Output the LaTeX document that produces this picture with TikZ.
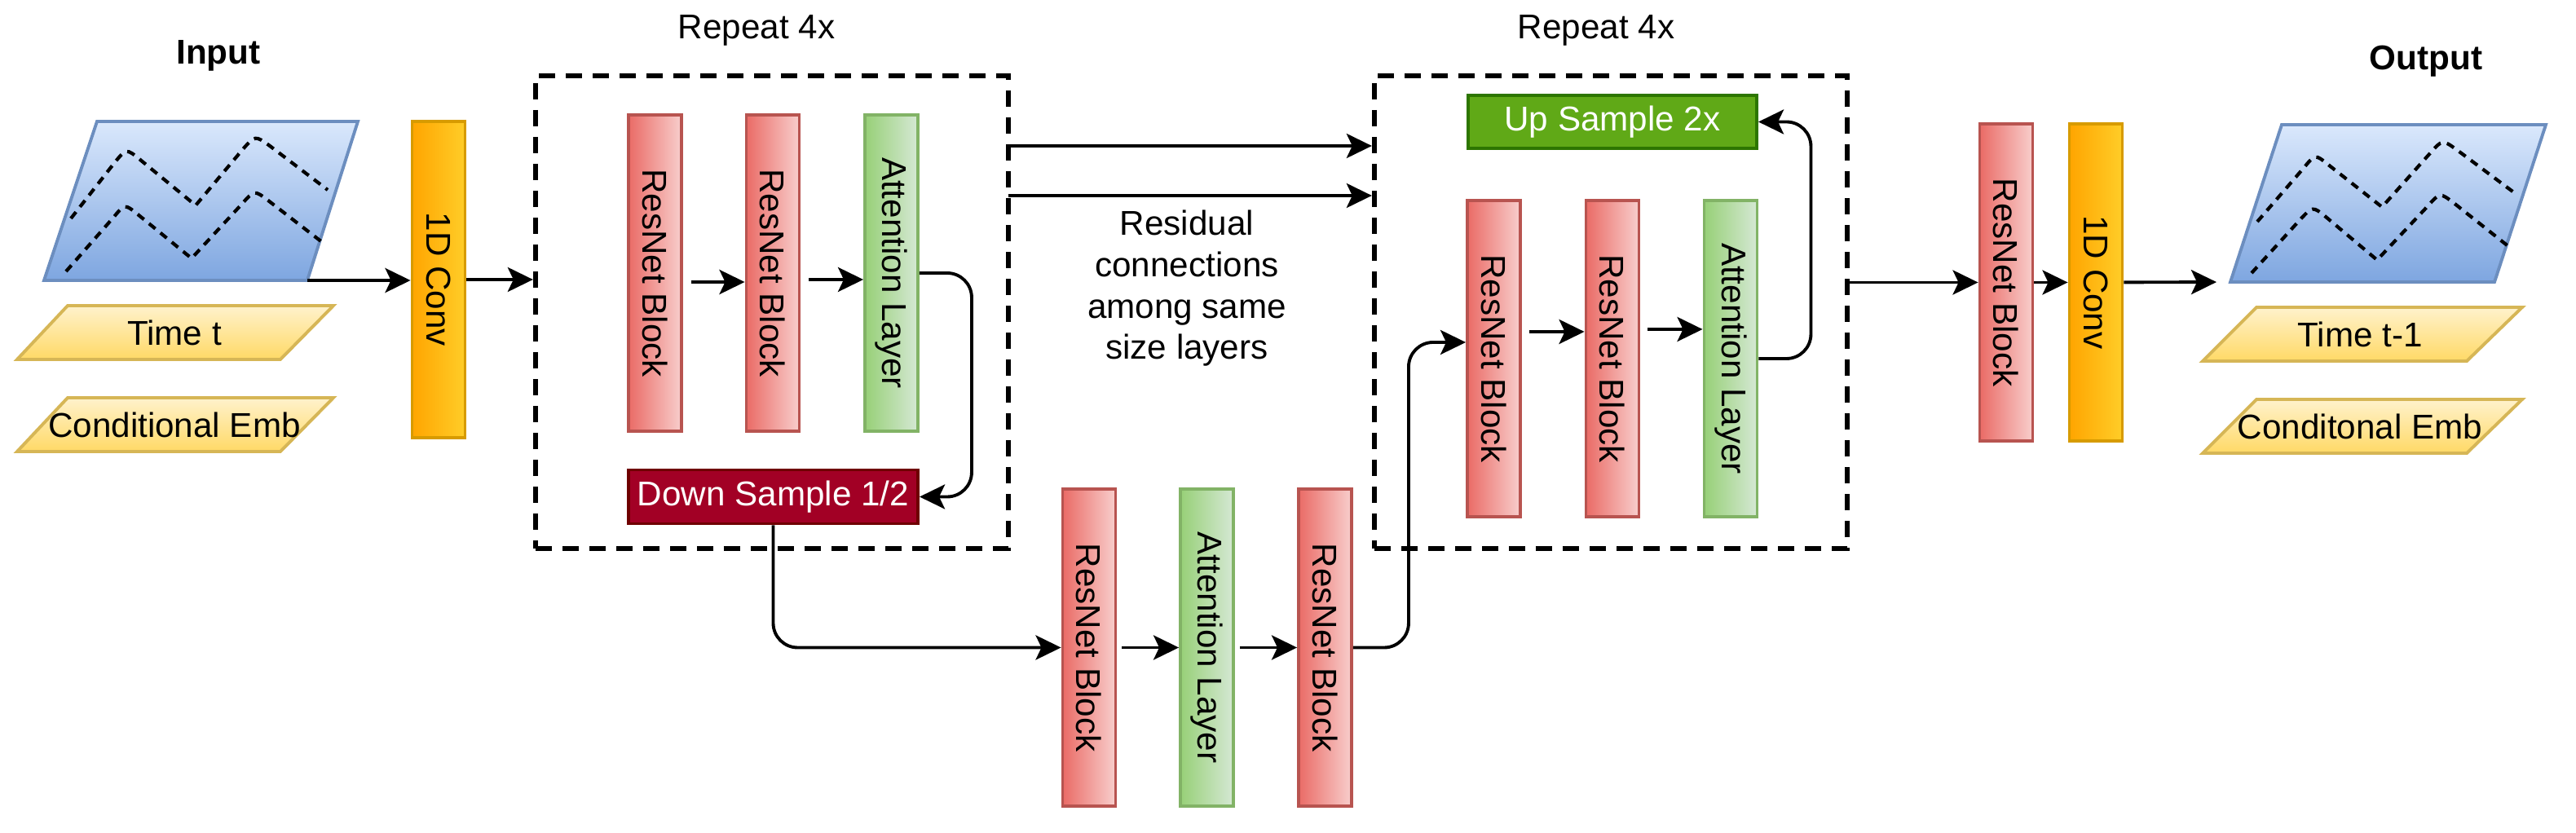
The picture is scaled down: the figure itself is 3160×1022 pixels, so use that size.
\documentclass[tikz,border=0pt]{standalone}
\usepackage{fontspec}
\setmainfont{Liberation Sans}
\usetikzlibrary{arrows.meta}
\definecolor{resL}{HTML}{EA6B66}
\definecolor{resR}{HTML}{F8CECC}
\definecolor{resB}{HTML}{B85450}
\definecolor{attL}{HTML}{97D077}
\definecolor{attR}{HTML}{D5E8D4}
\definecolor{attB}{HTML}{82B366}
\definecolor{convL}{HTML}{FFA500}
\definecolor{convR}{HTML}{FFCD28}
\definecolor{convB}{HTML}{D79B00}
\definecolor{dataT}{HTML}{DAE8FC}
\definecolor{dataD}{HTML}{7EA6E0}
\definecolor{dataB}{HTML}{6C8EBF}
\definecolor{embT}{HTML}{FFF2CC}
\definecolor{embD}{HTML}{FFD966}
\definecolor{embB}{HTML}{D6B656}
\definecolor{downF}{HTML}{A20025}
\definecolor{downB}{HTML}{6F0000}
\definecolor{upF}{HTML}{60A917}
\definecolor{upB}{HTML}{2D7600}

\begin{document}
\begin{tikzpicture}[x=0.01cm, y=-0.01cm, font=\fontsize{12}{14.4}\selectfont,
  >={Stealth[length=0.31cm, width=0.30cm, inset=0.07cm]},
  arr/.style={->, line width=1.1pt},
  blockbase/.style={draw, line width=1.1pt, minimum width=0.65cm, minimum height=3.88cm, inner sep=0pt},
  resblock/.style={blockbase, draw=resB, left color=resL, right color=resR, label={[rotate=-90]center:ResNet Block}},
  attblock/.style={blockbase, draw=attB, left color=attL, right color=attR, label={[rotate=-90]center:Attention Layer}},
  convblock/.style={blockbase, draw=convB, left color=convL, right color=convR, label={[rotate=-90]center:1D Conv}},
  repeatbox/.style={draw, line width=1.7pt, dash pattern=on 0.2cm off 0.13cm, minimum width=5.8cm, minimum height=5.8cm},
  wave/.style={line width=1.2pt, dash pattern=on 0.1cm off 0.08cm},
  datashape/.style={draw=dataB, line width=1.1pt, top color=dataT, bottom color=dataD},
  embshape/.style={draw=embB, line width=1.1pt, top color=embT, bottom color=embD},
  sample/.style={draw, line width=1.1pt, text=white, minimum width=3.55cm, minimum height=0.66cm, inner sep=0pt},
  title/.style={font=\fontsize{12}{14.4}\selectfont\bfseries}]
\useasboundingbox (0,0) rectangle (3160,1022);

% input
\node[title] (inlabel) at (268,68) {Input};
\draw[datashape] (119,149) -- (439,149) -- (377,344) -- (54,344) -- cycle;
\coordinate (inBR) at (377,344);
\draw[wave] (87,268) -- (141,199) .. controls (155,182) .. (172,196) -- (240,252) -- (298,183) .. controls (313,166) .. (331,179) -- (402,233);
\draw[wave] (81,333) -- (139,267) .. controls (153,250) .. (169,263) -- (235,317) -- (297,250) .. controls (312,233) .. (329,246) -- (395,297);
\draw[embshape] (83,375) -- (409,375) -- (344,441) -- (21,441) -- cycle;
\node (timein) at (214,408) {Time t};
\draw[embshape] (83,488) -- (409,488) -- (344,554) -- (21,554) -- cycle;
\node (condin) at (214,521) {Conditional Emb};
\node[convblock] (conv1) at (538,343) {};

% down path
\node[repeatbox] (box1) at (947,383) {};
\node (rep1) at (928,37) {Repeat 4x};
\node[resblock] (res1) at (803.5,335) {};
\node[resblock] (res2) at (948,335) {};
\node[attblock] (att1) at (1093.5,335) {};
\node[sample, fill=downF, draw=downB] (down) at (948.5,609.5) {Down Sample 1/2};

% middle
\node[resblock] (mres1) at (1336,794.5) {};
\node[attblock] (matt) at (1480.5,794.5) {};
\node[resblock] (mres2) at (1625.5,794.5) {};

% up path
\node[repeatbox] (box2) at (1976,383) {};
\node (rep2) at (1958,37) {Repeat 4x};
\node[sample, fill=upF, draw=upB, minimum width=3.54cm, minimum height=0.65cm] (up) at (1978,149.5) {Up Sample 2x};
\node[resblock] (dres1) at (1832.5,440) {};
\node[resblock] (dres2) at (1978,440) {};
\node[attblock] (datt) at (2123,440) {};
\coordinate (skipA) at (1237,179);
\coordinate (skipB) at (1237,240);
\node[align=center] (restext) at (1456,354) {Residual\\connections\\among same\\size layers};

% output
\node[resblock] (ores) at (2461,346.5) {};
\node[convblock] (oconv) at (2571,346.5) {};
\node[title] (outlabel) at (2976,75) {Output};
\draw[datashape] (2799,153) -- (3123,153) -- (3060,346) -- (2736,346) -- cycle;
\coordinate (outBL) at (2736,346);
\draw[wave] (2769,272) -- (2826,206) .. controls (2840,189) .. (2856,202) -- (2922,254) -- (2981,188) .. controls (2996,171) .. (3014,184) -- (3085,237);
\draw[wave] (2762,335) -- (2822,269) .. controls (2837,253) .. (2853,266) -- (2916,319) -- (2978,253) .. controls (2993,236) .. (3010,249) -- (3078,303);
\draw[embshape] (2768,377) -- (3094,377) -- (3026,443) -- (2702,443) -- cycle;
\node (timeout) at (2895,410) {Time t-1};
\draw[embshape] (2768,490) -- (3094,490) -- (3026,556) -- (2702,556) -- cycle;
\node (condout) at (2895,523) {Conditonal Emb};

% connectors
\draw[arr] (inBR) -- (inBR -| conv1.west);
\draw[arr] (conv1) -- (conv1 -| box1.west);
\draw[arr, shorten <=0.1cm] ([yshift=-0.11cm]res1.east) -- ([yshift=-0.11cm]res2.west);
\draw[arr, shorten <=0.1cm] ([yshift=-0.08cm]res2.east) -- ([yshift=-0.08cm]att1.west);
\draw[arr, rounded corners=0.3cm] (att1.east) -- ++(64,0) |- (down.east);
\draw[arr, rounded corners=0.3cm] (down.south) |- (mres1.west);
\draw[arr, shorten <=0.06cm] (mres1) -- (matt);
\draw[arr, shorten <=0.06cm] (matt) -- (mres2);
\draw[arr, rounded corners=0.3cm] (mres2.east) -- ++(68,0) |- ([yshift=0.2cm]dres1.west);
\draw[arr, shorten <=0.09cm] ([yshift=0.33cm]dres1.east) -- ([yshift=0.33cm]dres2.west);
\draw[arr, shorten <=0.09cm] ([yshift=0.36cm]dres2.east) -- ([yshift=0.36cm]datt.west);
\draw[arr, rounded corners=0.3cm] (datt.east) -- ++(64,0) |- (up.east);
\draw[arr] (skipA) -- (skipA -| box2.west);
\draw[arr] (skipB) -- (skipB -| box2.west);
\draw[arr] (box2.east |- ores) -- (ores);
\draw[arr] (ores) -- (oconv);
\draw[arr, shorten >=0.17cm] (oconv) -- (outBL);
\end{tikzpicture}
\end{document}
